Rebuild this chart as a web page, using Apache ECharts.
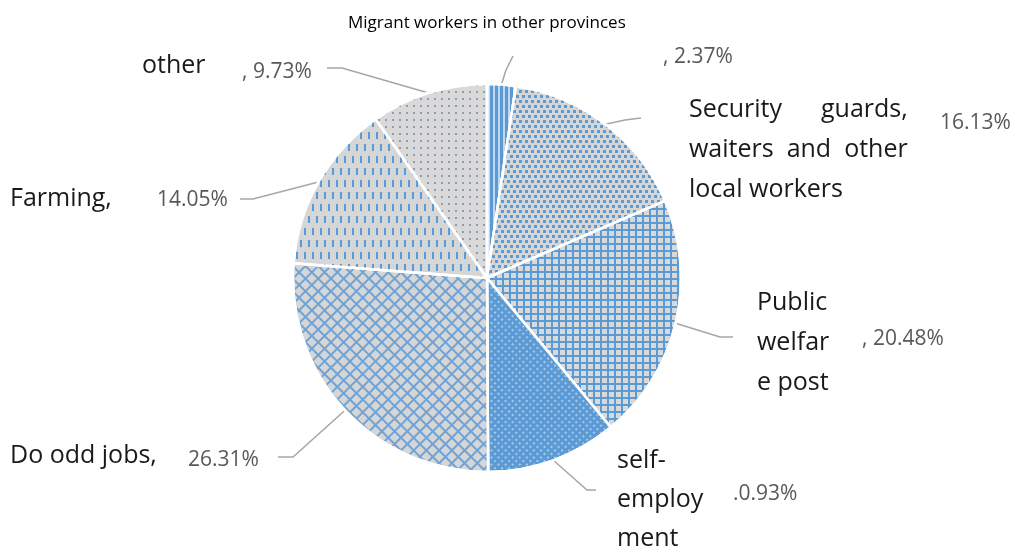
<!DOCTYPE html>
<html>
<head>
<meta charset="utf-8">
<script src="https://cdn.jsdelivr.net/npm/echarts@6/dist/echarts.min.js"></script>
<style>
  html, body { margin: 0; padding: 0; background: #fff; }
  #chart { width: 1016px; height: 551px; }
</style>
</head>
<body>
<div id="chart"></div>
<script>
  // data
  var categories = ['', 'Security      guards,\nwaiters  and  other\nlocal workers', 'Public\nwelfar\ne post',
    'self-\nemploy\nment', 'Do odd jobs,', 'Farming,', 'other'];
  var values = [2.37, 16.13, 20.48, 10.93, 26.31, 14.05, 9.73];
  var valueLabels = [', 2.37%', '16.13%', ', 20.48%', '.0.93%', '26.31%', '14.05%', ', 9.73%'];

  var blue = '#5b9bd5';
  var grey = '#d6d6d6';

  // fill + pattern for every slice
  var sliceStyles = [
    { color: '#c3d7ee', decal: { symbol: 'rect', symbolSize: 1, color: blue, dashArrayX: [3, 2], dashArrayY: [5, 0] } },
    { color: grey, decal: { symbol: 'rect', symbolSize: 1, color: blue, dashArrayX: [[3, 3], [0, 3, 3, 0]], dashArrayY: [3, 1.5] } },
    { color: blue, decal: { symbol: 'rect', symbolSize: 1, color: '#d9d9d9', dashArrayX: [5, 2], dashArrayY: [5, 2] } },
    { color: blue, decal: { symbol: 'rect', symbolSize: 1, color: '#aac6e6', dashArrayX: [1.3, 2.2], dashArrayY: [1.3, 2.2], rotation: Math.PI / 4 } },
    { color: '#6fa3d6', decal: { symbol: 'rect', symbolSize: 1, color: grey, dashArrayX: [6.5, 1.4], dashArrayY: [6.5, 1.4], rotation: Math.PI / 4 } },
    { color: grey, decal: { symbol: 'rect', symbolSize: 1, color: blue, dashArrayX: [[2, 6], [0, 4, 2, 2]], dashArrayY: [7, 5] } },
    { color: '#d9d9d9', decal: { symbol: 'rect', symbolSize: 1, color: '#8e9cb1', dashArrayX: [1.6, 5], dashArrayY: [1.6, 5] } }
  ];

  // label placement (left x, middle y) and label line bends
  var valuePos = [[663, 57], [940, 123], [862, 339], [733, 494], [188, 460], [157, 200], [242, 72]];
  var namePos = [[0, 0], [689, 150], [757, 343], [617, 500], [10, 456], [10, 199], [142, 66]];
  var linePts = [
    [[506, 70], [513, 56]],
    [[625, 120], [641, 118]],
    [[720, 337], [733, 337]],
    [[587, 490], [596, 490]],
    [[293, 457], [278, 457]],
    [[253, 199], [240, 199]],
    [[342, 68], [327, 68]]
  ];
  var nameLineHeight = [0, 40, 40, 39, 30, 30, 30];

  var myChart = echarts.init(document.getElementById('chart'));

  var pieData = values.map(function (v, i) {
    return { name: categories[i], value: v, itemStyle: sliceStyles[i] };
  });
  var nameData = values.map(function (v, i) {
    return { name: categories[i], value: v, label: { lineHeight: nameLineHeight[i] } };
  });

  myChart.setOption({
    animation: false,
    title: {
      text: 'Migrant workers in other provinces',
      left: 343,
      top: 10,
      textStyle: { fontFamily: 'Open Sans', fontSize: 17, fontWeight: 'normal', color: '#000' }
    },
    series: [
      {
        // slices + value labels
        type: 'pie',
        center: [487, 278],
        radius: [0, 194],
        startAngle: 90,
        avoidLabelOverlap: false,
        data: pieData,
        itemStyle: { borderColor: '#fff', borderWidth: 2.5 },
        label: {
          show: true,
          position: 'outside',
          formatter: function (p) { return valueLabels[p.dataIndex]; },
          fontFamily: 'Open Sans',
          fontSize: 21,
          color: '#595959'
        },
        labelLine: { show: true, lineStyle: { color: '#a6a6a6', width: 1.5 } },
        labelLayout: function (params) {
          var i = params.dataIndex;
          var pts = [params.labelLinePoints[0]].concat(linePts[i]);
          return {
            x: valuePos[i][0],
            y: valuePos[i][1],
            align: 'left',
            verticalAlign: 'middle',
            labelLinePoints: pts
          };
        },
        emphasis: { disabled: true }
      },
      {
        // category names
        type: 'pie',
        center: [487, 278],
        radius: [0, 194],
        startAngle: 90,
        silent: true,
        avoidLabelOverlap: false,
        data: nameData,
        itemStyle: { color: 'rgba(0,0,0,0)' },
        label: {
          show: true,
          position: 'outside',
          formatter: '{b}',
          fontFamily: 'Open Sans',
          fontSize: 25,
          color: '#1a1a1a'
        },
        labelLine: { show: false },
        labelLayout: function (params) {
          var i = params.dataIndex;
          return { x: namePos[i][0], y: namePos[i][1], align: 'left', verticalAlign: 'middle' };
        }
      }
    ]
  });
</script>
</body>
</html>
